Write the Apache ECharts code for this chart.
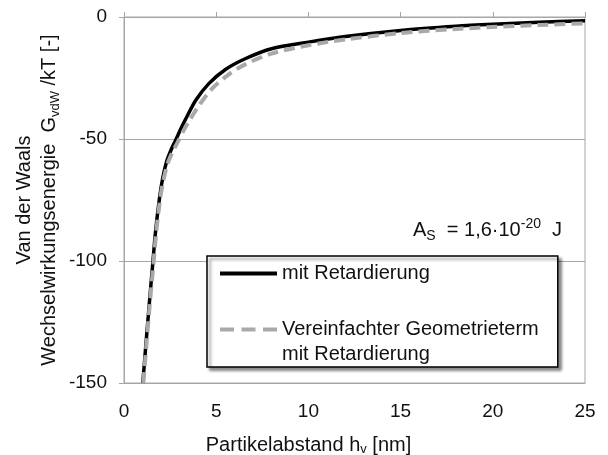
<!DOCTYPE html>
<html>
<head>
<meta charset="utf-8">
<script src="https://cdn.jsdelivr.net/npm/echarts@6/dist/echarts.min.js"></script>
<style>html,body{margin:0;padding:0;background:#fff}#c{width:608px;height:455px}</style>
</head>
<body>
<div id="c"></div>
<script>
const xTicks = [0, 5, 10, 15, 20, 25];
const yTicks = [0, -50, -100, -150];
const seriesNames = ['mit Retardierung', 'Vereinfachter Geometrieterm\nmit Retardierung'];
const hBlack = [1.02,1.2,1.4,1.56,1.71,1.93,2.1,2.3,2.55,2.8,3.1,3.4,3.9,4.6,5.5,6.6,8,10,12,15,18,20,22.5,25];
const gBlack = [-150,-133,-115,-101,-88,-74,-66,-59.5,-54.5,-50.5,-45.5,-41,-34,-27.3,-21.5,-17,-13,-10.3,-8,-5.5,-3.8,-3,-2.2,-1.5];
const hGray = [1.05,1.23,1.43,1.6,1.75,1.97,2.15,2.37,2.62,2.9,3.2,3.5,4.0,4.7,5.6,6.6,8,10,12,15,18,20,22.5,25];
const gGray = [-150,-133,-115,-101,-88,-74,-66.5,-60,-55.5,-51.5,-47,-43,-37,-30,-24,-19.3,-15,-11.6,-9.2,-6.6,-4.9,-4.1,-3.3,-2.6];

const FONT = '"Liberation Sans", Arial, sans-serif';
const GRID = '#a6a6a6';
const chart = echarts.init(document.getElementById('c'));
const pairs = (xs, ys) => xs.map((x, i) => [x, ys[i]]);

chart.setOption({
  animation: false,
  backgroundColor: '#fff',
  textStyle: { fontFamily: FONT },
  grid: { left: 124, right: 23, top: 17, bottom: 72, show: true, borderColor: GRID, borderWidth: 1,
    containLabel: false, outerBoundsMode: 'none' },
  legend: {
    orient: 'vertical',
    left: 207, top: 256,
    padding: [5, 19, 0, 13],
    itemGap: 6,
    itemWidth: 57, itemHeight: 4,
    backgroundColor: '#fff',
    borderColor: '#000', borderWidth: 1.5,
    shadowBlur: 3, shadowOffsetX: 3, shadowOffsetY: 3, shadowColor: 'rgba(0,0,0,0.45)',
    data: [
      { name: seriesNames[0], icon: 'path://M0,0h57v4h-57z' },
      { name: seriesNames[1], icon: 'path://M0,0h14v4h-14zM21.5,0h14v4h-14zM43,0h14v4h-14z' }
    ],
    formatter: name => name === seriesNames[1] ? ' \n' + name : name,
    textStyle: { fontFamily: FONT, fontSize: 20, color: '#111', lineHeight: 25 }
  },
  xAxis: [{
    type: 'value', position: 'bottom', min: 0, max: 25, interval: 5,
    axisLine: { show: true, onZero: false, lineStyle: { color: GRID } },
    axisTick: { show: false },
    splitLine: { show: false },
    axisLabel: { margin: 19, fontSize: 19, color: '#111', fontFamily: FONT,
      formatter: v => xTicks.includes(v) ? String(v) : '' },
    name: 'Partikelabstand h{sub|v} [nm]',
    nameLocation: 'middle', nameGap: 52, nameMoveOverlap: false,
    nameTextStyle: { fontSize: 20, color: '#111', fontFamily: FONT, padding: [0, 92, 0, 0],
      rich: { sub: { fontSize: 13, verticalAlign: 'bottom', padding: [8, 0, 0, 0], color: '#111', fontFamily: FONT } } }
  }, {
    type: 'value', position: 'top', min: 0, max: 25, interval: 5,
    axisLine: { show: true, onZero: false, lineStyle: { color: GRID } },
    axisTick: { show: true, inside: false, length: 5, lineStyle: { color: GRID } },
    axisLabel: { show: false },
    splitLine: { show: false }
  }],
  yAxis: {
    type: 'value', min: -150, max: 0, interval: 50,
    axisLine: { show: true, onZero: false, lineStyle: { color: GRID } },
    axisTick: { show: true, length: 5, lineStyle: { color: GRID } },
    splitLine: { show: true, lineStyle: { color: GRID, width: 1 } },
    axisLabel: { margin: 17, fontSize: 19, color: '#111', fontFamily: FONT,
      formatter: v => yTicks.includes(v) ? String(v) : '' },
    name: '{n|Van der Waals}\n{n|Wechselwirkungsenergie  G}{sub|vdW}{n| /kT [-]}',
    nameLocation: 'middle', nameGap: 62, nameRotate: 90, nameMoveOverlap: false,
    nameTextStyle: { fontFamily: FONT, color: '#111',
      rich: {
        n: { fontSize: 20, lineHeight: 25, color: '#111', fontFamily: FONT },
        sub: { fontSize: 13, lineHeight: 25, verticalAlign: 'bottom', padding: [10, 0, 0, 0], color: '#111', fontFamily: FONT }
      } }
  },
  graphic: [{
    type: 'text', left: 413, top: 217, z: 100,
    style: {
      text: '{n|A}{sub|S}{n|  = 1,6·10}{sup|-20}{n|  J}',
      rich: {
        n: { fontSize: 20, lineHeight: 26, fill: '#111', fontFamily: FONT },
        sub: { fontSize: 14, lineHeight: 26, verticalAlign: 'bottom', padding: [8, 0, 0, 0], fill: '#111', fontFamily: FONT },
        sup: { fontSize: 14, lineHeight: 26, verticalAlign: 'top', padding: [0, 0, 8, 0], fill: '#111', fontFamily: FONT }
      }
    }
  }],
  series: [{
    name: seriesNames[0], type: 'line', xAxisIndex: 0,
    data: pairs(hBlack, gBlack),
    showSymbol: false, symbol: 'none',
    smooth: 0.3,
    lineStyle: { color: '#000', width: 3.5 },
    itemStyle: { color: '#000' },
    z: 2
  }, {
    name: seriesNames[1], type: 'line', xAxisIndex: 0,
    data: pairs(hGray, gGray),
    showSymbol: false, symbol: 'none',
    smooth: 0.3,
    lineStyle: { color: '#a9a9a9', width: 4, type: [11, 6] },
    itemStyle: { color: '#a9a9a9' },
    z: 3
  }]
});
</script>
</body>
</html>
